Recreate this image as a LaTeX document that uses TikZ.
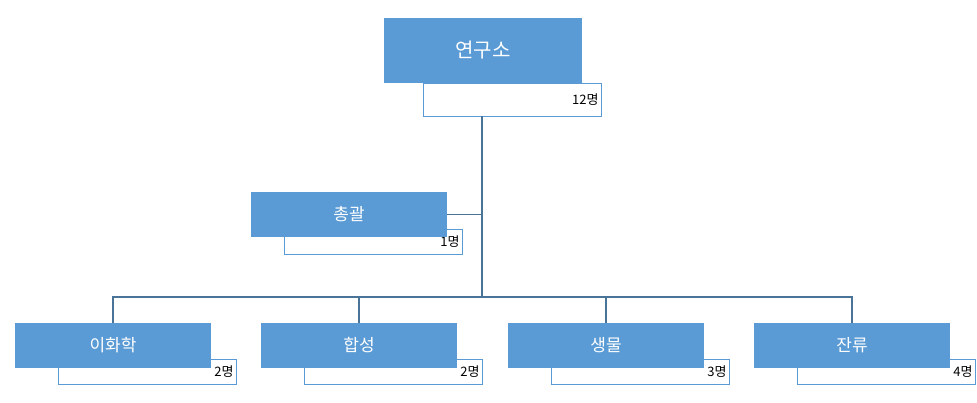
\documentclass[tikz,border=0pt]{standalone}
\usepackage{fontspec}
\setmainfont{Noto Sans CJK KR}
\usetikzlibrary{positioning}
\definecolor{boxblue}{HTML}{5B9BD5}
\definecolor{linkblue}{HTML}{4A7398}
\tikzset{
	unit/.style={fill=boxblue,text=white,inner sep=0pt,minimum width=196pt,minimum height=45pt,font=\fontsize{17}{17}\selectfont},
	count/.style={draw=boxblue,fill=white,inner sep=0pt,minimum width=178pt,minimum height=25pt,align=right,text width=172pt,font=\fontsize{13}{13}\selectfont},
	link/.style={draw=linkblue,line width=1.3pt}
}
\begin{document}
\begin{tikzpicture}[x=1pt,y=-1pt]
	\useasboundingbox (0,0) rectangle (977,402);
	
	\node[count,minimum height=33pt] (topN) at (512.5,99.5) {12명};
	\node[unit,minimum width=198pt,minimum height=65pt,font=\fontsize{20}{20}\selectfont] (top) at (483,50.5) {연구소};
	
	\node[count] (genN) at (373.5,241.5) {1명};
	\node[unit] (gen) at (349,214.5) {총괄};
	
	\newcommand\drawUnit[4]{
		\node[count] (#3N) at (#1+34.5,372) {#4};
		\node[unit] (#3) at (#1,345.5) {#2};
	}
	\drawUnit{113}{이화학}{chem}{2명}
	\drawUnit{359}{합성}{syn}{2명}
	\drawUnit{606}{생물}{bio}{3명}
	\drawUnit{852}{잔류}{res}{4명}
	
	\coordinate (trunk) at (482,297);
	\coordinate (branch) at (482,214.5);
	\draw[link] (482,116) -- (trunk);
	\draw[link] (gen.east) -- (branch);
	\draw[link] (trunk) -| (chem.north);
	\draw[link] (trunk) -| (syn.north);
	\draw[link] (trunk) -| (bio.north);
	\draw[link] (trunk) -| (res.north);
\end{tikzpicture}
\end{document}
